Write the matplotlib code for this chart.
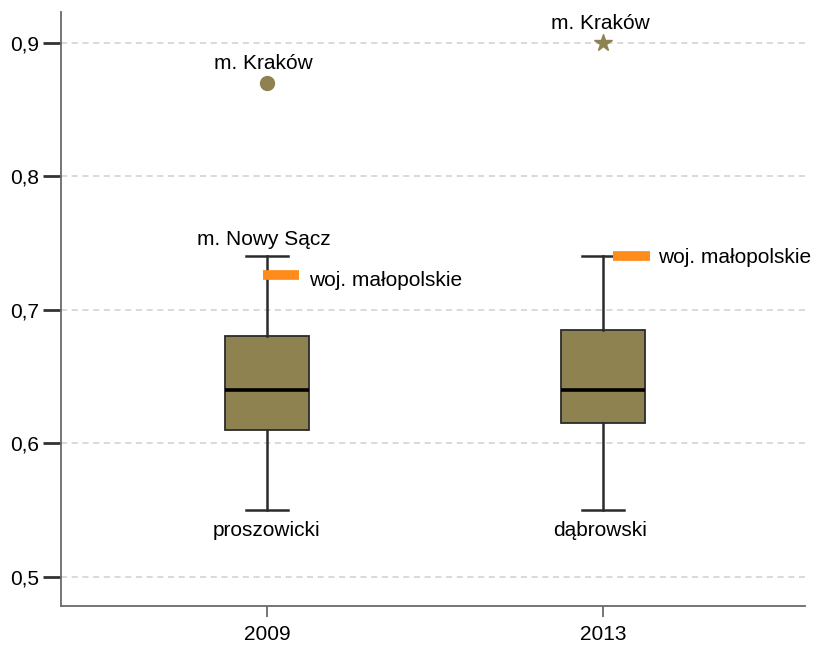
import matplotlib
matplotlib.use("Agg")
import matplotlib.pyplot as plt

# Data.
years = ["2009", "2013"]
q1 = [0.610, 0.615]
median = [0.640, 0.640]
q3 = [0.680, 0.685]
whisker_lo = [0.550, 0.550]
whisker_hi = [0.740, 0.740]
lo_labels = ["proszowicki", "dąbrowski"]
hi_labels = ["m. Nowy Sącz", ""]
outlier_vals = [0.870, 0.900]
outlier_labels = ["m. Kraków", "m. Kraków"]
outlier_markers = ["o", "*"]
region_vals = [0.726, 0.740]
region_label = "woj. małopolskie"
yticks = [0.5, 0.6, 0.7, 0.8, 0.9]

BOX = "#8e8250"
EDGE = "#2b2b2b"
ORANGE = "#ff8c1a"
GRID = "#d0d0d0"
AXIS = "#6a6a6a"
FS = 15

plt.rcParams["font.family"] = ["Liberation Sans", "DejaVu Sans"]

fig = plt.figure(figsize=(8.17, 6.45), dpi=100)
ax = fig.add_axes([61 / 817, 39 / 645, 744 / 817, 594 / 645])

pos = [1, 2]
stats = []
for i in range(len(years)):
    stats.append({"med": median[i], "q1": q1[i], "q3": q3[i],
                  "whislo": whisker_lo[i], "whishi": whisker_hi[i],
                  "fliers": [], "label": years[i]})

ax.bxp(stats, positions=pos, widths=0.25, patch_artist=True,
       boxprops=dict(facecolor=BOX, edgecolor=EDGE, linewidth=1.3),
       medianprops=dict(color="black", linewidth=2.6),
       whiskerprops=dict(color=EDGE, linewidth=1.8),
       capprops=dict(color=EDGE, linewidth=1.8),
       capwidths=0.125, zorder=3)

# Outliers + labels
for x, v, lab, m in zip(pos, outlier_vals, outlier_labels, outlier_markers):
    ax.plot(x, v, marker=m, color=BOX, markersize=10 if m == "o" else 13,
            markeredgecolor=BOX, zorder=4, linestyle="none")
    ax.text(x - 0.01, v + 0.0145, lab, ha="center", va="center", fontsize=FS)

# Whisker-end labels
for x, hi, lo, hl, ll in zip(pos, whisker_hi, whisker_lo, hi_labels, lo_labels):
    if hl:
        ax.text(x - 0.01, hi + 0.0125, hl, ha="center", va="center", fontsize=FS)
    if ll:
        ax.text(x - 0.003 if x == 1 else x - 0.01, lo - 0.0155, ll,
                ha="center", va="center", fontsize=FS)

# Region (voivodeship) marker
bar_off = [(-0.012, 0.095), (0.03, 0.14)]
txt_off = [0.125, 0.164]
txt_dy = [-0.0045, -0.0008]
for x, v, (a, b), t, dy in zip(pos, region_vals, bar_off, txt_off, txt_dy):
    ax.plot([x + a, x + b], [v, v], color=ORANGE, linewidth=7,
            solid_capstyle="butt", zorder=5)
    ax.text(x + t, v + dy, region_label, ha="left", va="center", fontsize=FS)

ax.set_xlim(0.387, 2.60)
ax.set_ylim(0.478, 0.923)
ax.set_xticks(pos)
ax.set_xticklabels(years, fontsize=FS)
ax.set_yticks(yticks)
ax.set_yticklabels([f"{t:.1f}".replace(".", ",") for t in yticks], fontsize=FS)

ax.yaxis.grid(True, linestyle=(0, (4, 3)), color=GRID, linewidth=1.1, zorder=0)
ax.set_axisbelow(True)
for s in ["top", "right"]:
    ax.spines[s].set_visible(False)
for s in ["left", "bottom"]:
    ax.spines[s].set_color(AXIS)
    ax.spines[s].set_linewidth(1.3)
ax.tick_params(axis="y", length=13, width=2, color="#333333", pad=3)
ax.tick_params(axis="x", length=8, width=1.3, color=AXIS, pad=6)

fig.savefig("out.png", dpi=100, facecolor="white")
